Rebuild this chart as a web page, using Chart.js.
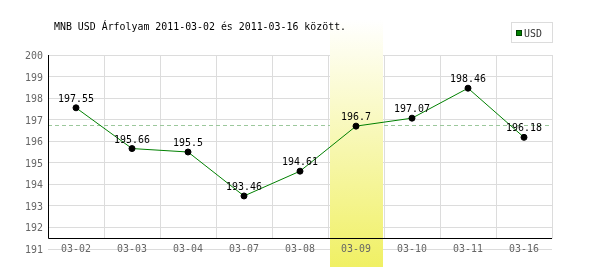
<!DOCTYPE html>
<html>
<head>
<meta charset="utf-8">
<script src="https://cdn.jsdelivr.net/npm/chart.js@4/dist/chart.umd.min.js"></script>
<style>
  body { margin: 0; background: #fff; }
  canvas { display: block; }
</style>
</head>
<body>
<canvas id="c" width="600" height="270"></canvas>
<script>
const days = ['03-02', '03-03', '03-04', '03-07', '03-08', '03-09', '03-10', '03-11', '03-16'];
const usd = [197.55, 195.66, 195.5, 193.46, 194.61, 196.7, 197.07, 198.46, 196.18];
const yTicks = [191, 192, 193, 194, 195, 196, 197, 198, 199, 200];
const refLine = 196.74;
const highlightDay = '03-09';
const title = 'MNB USD Árfolyam 2011-03-02 és 2011-03-16 között.';
const seriesName = 'USD';

const FONT = '11px "DejaVu Sans Mono", "Liberation Mono", monospace';

// narrow mono text, like the old bitmap font
function txt(ctx, s, x, y, align, color) {
  ctx.save();
  ctx.font = FONT;
  ctx.fillStyle = color;
  ctx.textAlign = align;
  ctx.textBaseline = 'alphabetic';
  ctx.translate(x, y);
  ctx.scale(0.9, 1);
  ctx.fillText(s, 0, 0);
  ctx.restore();
}

const decor = {
  id: 'decor',
  beforeDatasetsDraw(chart) {
    const { ctx, chartArea: a, scales: { x, y } } = chart;
    const axisY = 238.5;
    const step = a.width / days.length;

    ctx.save();
    // vertical grid
    ctx.strokeStyle = '#dcdcdc';
    ctx.lineWidth = 1;
    for (let i = 1; i <= days.length; i++) {
      const px = Math.round(a.left + step * i) + 0.5;
      ctx.beginPath();
      ctx.moveTo(px, a.top);
      ctx.lineTo(px, axisY);
      ctx.stroke();
    }
    // reference line
    const ry = Math.round(y.getPixelForValue(refLine)) + 0.5;
    ctx.strokeStyle = '#9cc89c';
    ctx.setLineDash([4, 3]);
    ctx.beginPath();
    ctx.moveTo(a.left, ry);
    ctx.lineTo(a.right, ry);
    ctx.stroke();
    ctx.setLineDash([]);

    // highlighted day
    const cx = x.getPixelForValue(days.indexOf(highlightDay));
    const g = ctx.createLinearGradient(0, 20, 0, 267);
    g.addColorStop(0, 'rgba(255,255,255,1)');
    g.addColorStop(1, 'rgb(240,240,100)');
    ctx.fillStyle = g;
    ctx.fillRect(cx - 26, 20, 53, 247);

    // axes
    ctx.strokeStyle = '#000';
    ctx.beginPath();
    ctx.moveTo(a.left + 0.5, a.top);
    ctx.lineTo(a.left + 0.5, axisY);
    ctx.lineTo(a.right, axisY);
    ctx.stroke();
    ctx.restore();

    // tick labels
    yTicks.forEach(v => txt(ctx, String(v), 43, y.getPixelForValue(v) + 4, 'right', '#666'));
    days.forEach((d, i) => txt(ctx, d, x.getPixelForValue(i), 252, 'center', '#666'));
  },
  afterDatasetsDraw(chart) {
    const { ctx, scales: { x, y } } = chart;
    usd.forEach((v, i) => {
      txt(ctx, String(v), x.getPixelForValue(i), y.getPixelForValue(v) - 6, 'center', '#000');
    });
    txt(ctx, title, 54, 30, 'left', '#000');

    // legend
    ctx.save();
    ctx.strokeStyle = '#dcdcdc';
    ctx.lineWidth = 1;
    ctx.strokeRect(511.5, 22.5, 41, 20);
    ctx.fillStyle = '#008000';
    ctx.fillRect(516, 30, 6, 6);
    ctx.strokeStyle = '#004000';
    ctx.strokeRect(516.5, 30.5, 5, 5);
    ctx.restore();
    txt(ctx, seriesName, 524, 37, 'left', '#333');
  }
};

new Chart(document.getElementById('c'), {
  type: 'line',
  data: {
    labels: days,
    datasets: [{
      label: seriesName,
      data: usd,
      borderColor: '#008000',
      borderWidth: 1,
      pointRadius: 3,
      pointBackgroundColor: '#000',
      pointBorderColor: '#000',
      pointBorderWidth: 1,
      tension: 0
    }]
  },
  options: {
    responsive: false,
    animation: false,
    layout: { padding: { left: 0, top: 55, right: 48, bottom: 21 } },
    plugins: { legend: { display: false }, title: { display: false }, tooltip: { enabled: false } },
    scales: {
      x: { display: false, offset: true },
      y: {
        min: 191,
        max: 200,
        ticks: { display: false, stepSize: 1 },
        grid: { color: '#dcdcdc', drawTicks: false },
        border: { display: false },
        afterFit(scale) { scale.width = 48; }
      }
    }
  },
  plugins: [decor]
});
</script>
</body>
</html>
